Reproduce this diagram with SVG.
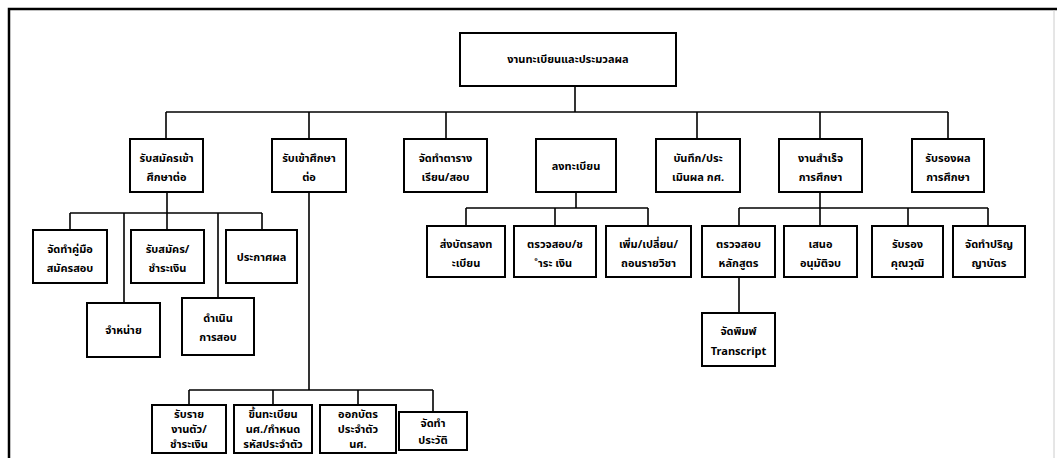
<svg xmlns="http://www.w3.org/2000/svg" width="1057" height="458" viewBox="0 0 1057 458">
<style>
.b{fill:#fff;stroke:#000;stroke-width:2}
.t{font-family:"Noto Sans Thai","Noto Sans","DejaVu Sans",sans-serif;font-size:11px;font-weight:bold;fill:#000;text-anchor:middle}
.c line{stroke:#000;stroke-width:1.6}
</style>
<rect width="1057" height="458" fill="#fff"/>
<path d="M9 458V9H1057" fill="none" stroke="#000" stroke-width="2.5"/>
<line x1="1054" y1="10" x2="1054" y2="458" stroke="#ccc" stroke-width="1"/>
<g class="c" id="connectors">
<line x1="575" y1="86" x2="575" y2="112"/>
<line x1="166" y1="112" x2="948" y2="112"/>
<line x1="166" y1="112" x2="166" y2="139"/>
<line x1="309" y1="112" x2="309" y2="139"/>
<line x1="446" y1="112" x2="446" y2="139"/>
<line x1="697" y1="112" x2="697" y2="139"/>
<line x1="820" y1="112" x2="820" y2="139"/>
<line x1="948" y1="112" x2="948" y2="139"/>
<line x1="167" y1="192" x2="167" y2="230"/>
<line x1="70" y1="213" x2="262" y2="213"/>
<line x1="70" y1="213" x2="70" y2="230"/>
<line x1="124" y1="213" x2="124" y2="303"/>
<line x1="218" y1="213" x2="218" y2="298"/>
<line x1="262" y1="213" x2="262" y2="230"/>
<line x1="309" y1="192" x2="309" y2="390"/>
<line x1="189" y1="390" x2="433" y2="390"/>
<line x1="189" y1="390" x2="189" y2="405"/>
<line x1="273" y1="390" x2="273" y2="405"/>
<line x1="358" y1="390" x2="358" y2="405"/>
<line x1="433" y1="390" x2="433" y2="412"/>
<line x1="576" y1="192" x2="576" y2="208"/>
<line x1="466" y1="208" x2="648" y2="208"/>
<line x1="466" y1="208" x2="466" y2="226"/>
<line x1="555" y1="208" x2="555" y2="226"/>
<line x1="648" y1="208" x2="648" y2="226"/>
<line x1="820" y1="192" x2="820" y2="226"/>
<line x1="739" y1="208" x2="988" y2="208"/>
<line x1="739" y1="208" x2="739" y2="226"/>
<line x1="908" y1="208" x2="908" y2="226"/>
<line x1="988" y1="208" x2="988" y2="226"/>
<line x1="739" y1="277" x2="739" y2="313"/>
</g>
<g id="root"><rect class="b" x="460" y="33" width="216" height="53"/><text class="t" x="568" y="63">งานทะเบียนและประมวลผล</text></g>
<g id="n1"><rect class="b" x="130" y="139" width="73" height="53"/><text class="t" x="166.5" y="162">รับสมัครเข้า</text><text class="t" x="166.5" y="181">ศึกษาต่อ</text></g>
<g id="n2"><rect class="b" x="272" y="139" width="74" height="53"/><text class="t" x="309" y="162">รับเข้าศึกษา</text><text class="t" x="309" y="181">ต่อ</text></g>
<g id="n3"><rect class="b" x="404" y="139" width="83" height="53"/><text class="t" x="445.5" y="162">จัดทำตาราง</text><text class="t" x="445.5" y="181">เรียน/สอบ</text></g>
<g id="n4"><rect class="b" x="536" y="139" width="80" height="53"/><text class="t" x="576" y="170">ลงทะเบียน</text></g>
<g id="n5"><rect class="b" x="656" y="139" width="84" height="53"/><text class="t" x="698" y="162">บันทึก/ประ</text><text class="t" x="698" y="181">เมินผล กศ.</text></g>
<g id="n6"><rect class="b" x="779" y="139" width="83" height="53"/><text class="t" x="820.5" y="162">งานสำเร็จ</text><text class="t" x="820.5" y="181">การศึกษา</text></g>
<g id="n7"><rect class="b" x="912" y="139" width="72" height="53"/><text class="t" x="948" y="162">รับรองผล</text><text class="t" x="948" y="181">การศึกษา</text></g>
<g id="a1"><rect class="b" x="33" y="230" width="74" height="53"/><text class="t" x="70" y="253">จัดทำคู่มือ</text><text class="t" x="70" y="272">สมัครสอบ</text></g>
<g id="a2"><rect class="b" x="131" y="230" width="73" height="53"/><text class="t" x="167.5" y="253">รับสมัคร/</text><text class="t" x="167.5" y="272">ชำระเงิน</text></g>
<g id="a3"><rect class="b" x="226" y="230" width="71" height="53"/><text class="t" x="261.5" y="261">ประกาศผล</text></g>
<g id="a4"><rect class="b" x="87" y="303" width="73" height="54"/><text class="t" x="123.5" y="334">จำหน่าย</text></g>
<g id="a5"><rect class="b" x="182" y="298" width="72" height="57"/><text class="t" x="218" y="322">ดำเนิน</text><text class="t" x="218" y="341">การสอบ</text></g>
<g id="b1"><rect class="b" x="152" y="405" width="74" height="48"/><text class="t" x="189" y="418">รับราย</text><text class="t" x="189" y="433">งานตัว/</text><text class="t" x="189" y="448">ชำระเงิน</text></g>
<g id="b2"><rect class="b" x="234" y="405" width="78" height="48"/><text class="t" x="273" y="418">ขึ้นทะเบียน</text><text class="t" x="273" y="433">นศ./กำหนด</text><text class="t" x="273" y="448">รหัสประจำตัว</text></g>
<g id="b3"><rect class="b" x="320" y="405" width="76" height="48"/><text class="t" x="358" y="418">ออกบัตร</text><text class="t" x="358" y="433">ประจำตัว</text><text class="t" x="358" y="448">นศ.</text></g>
<g id="b4"><rect class="b" x="399" y="412" width="68" height="38"/><text class="t" x="433" y="427">จัดทำ</text><text class="t" x="433" y="444">ประวัติ</text></g>
<g id="d1"><rect class="b" x="427" y="226" width="78" height="51"/><text class="t" x="466" y="248">ส่งบัตรลงท</text><text class="t" x="466" y="267">ะเบียน</text></g>
<g id="d2"><rect class="b" x="514" y="226" width="82" height="51"/><text class="t" x="555" y="248">ตรวจสอบ/ช</text><text class="t" x="555" y="267">ำระ เงิน</text></g>
<g id="d3"><rect class="b" x="606" y="226" width="85" height="51"/><text class="t" x="648.5" y="248">เพิ่ม/เปลี่ยน/</text><text class="t" x="648.5" y="267">ถอนรายวิชา</text></g>
<g id="f1"><rect class="b" x="702" y="226" width="73" height="51"/><text class="t" x="738.5" y="248">ตรวจสอบ</text><text class="t" x="738.5" y="267">หลักสูตร</text></g>
<g id="f2"><rect class="b" x="784" y="226" width="73" height="51"/><text class="t" x="820.5" y="248">เสนอ</text><text class="t" x="820.5" y="267">อนุมัติจบ</text></g>
<g id="f3"><rect class="b" x="872" y="226" width="71" height="51"/><text class="t" x="907.5" y="248">รับรอง</text><text class="t" x="907.5" y="267">คุณวุฒิ</text></g>
<g id="f4"><rect class="b" x="953" y="226" width="72" height="51"/><text class="t" x="989" y="248">จัดทำปริญ</text><text class="t" x="989" y="267">ญาบัตร</text></g>
<g id="f5"><rect class="b" x="702" y="313" width="73" height="53"/><text class="t" x="738.5" y="335">จัดพิมพ์</text><text class="t" x="738.5" y="355">Transcript</text></g>
</svg>
